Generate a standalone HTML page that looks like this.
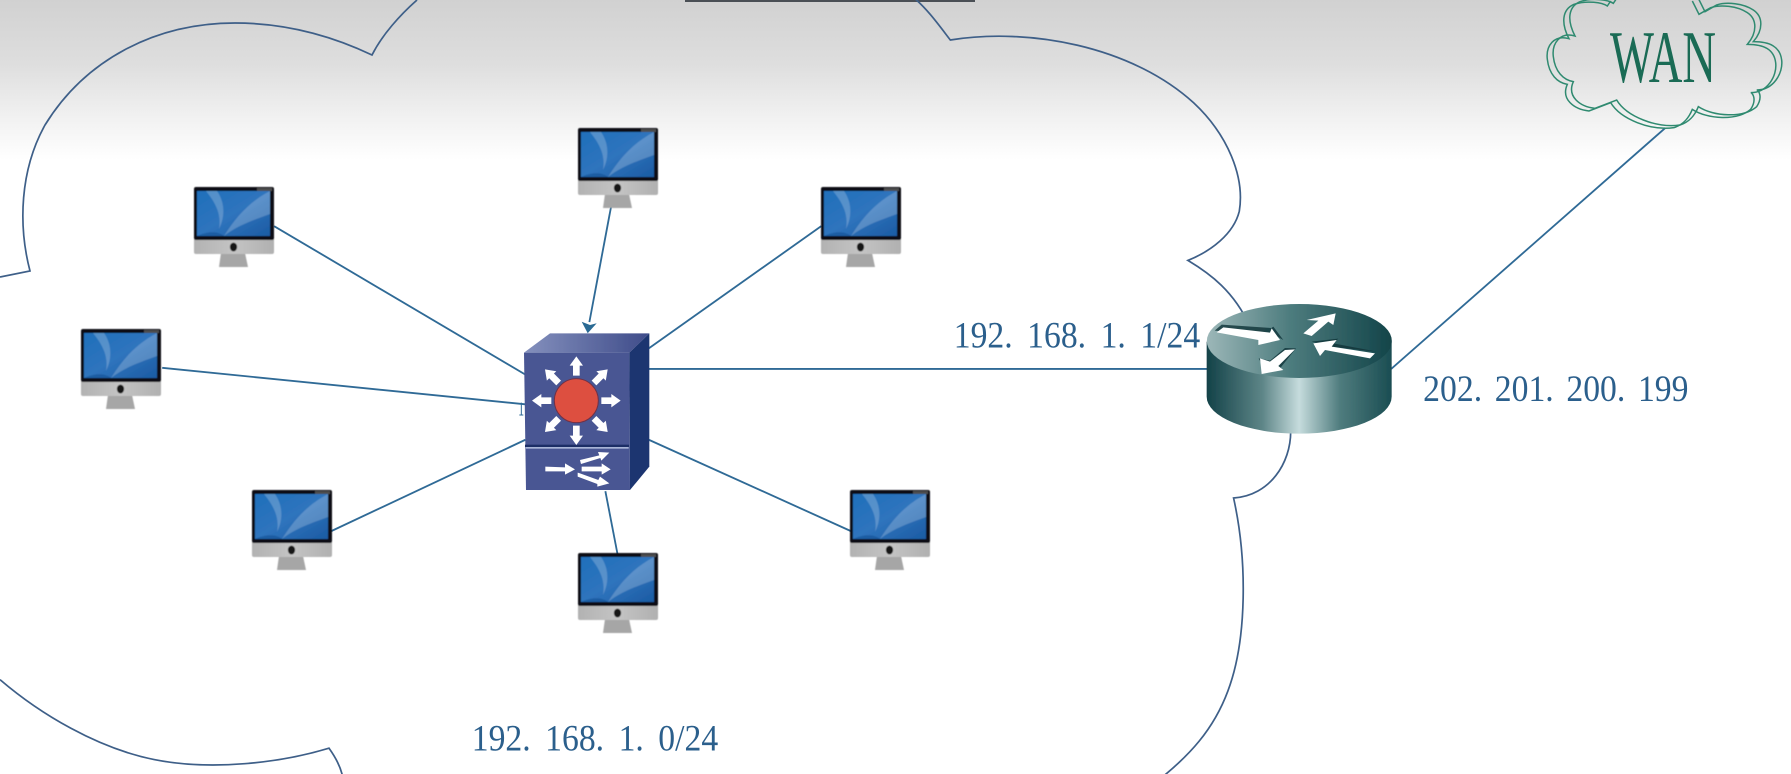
<!DOCTYPE html>
<html><head><meta charset="utf-8"><style>
html,body{margin:0;padding:0;background:#fff;width:1791px;height:774px;overflow:hidden}
svg{display:block}
text{font-family:"Liberation Serif","Noto Serif CJK SC",serif}
</style></head><body>
<svg width="1791" height="774" viewBox="0 0 1791 774" xmlns="http://www.w3.org/2000/svg" xmlns:xlink="http://www.w3.org/1999/xlink">
<defs>
<linearGradient id="bg" x1="0" y1="0" x2="0" y2="1"><stop offset="0" stop-color="#d1d1d1"/><stop offset=".4" stop-color="#dedede"/><stop offset=".75" stop-color="#f2f2f2"/><stop offset="1" stop-color="#ffffff"/></linearGradient>
<linearGradient id="scr" x1="0" y1="0" x2="1" y2="1"><stop offset="0" stop-color="#1f70bb"/><stop offset=".5" stop-color="#2f74bd"/><stop offset="1" stop-color="#1b5ba3"/></linearGradient>
<linearGradient id="silver" x1="0" y1="0" x2="1" y2="0"><stop offset="0" stop-color="#b2b2b2"/><stop offset=".5" stop-color="#c4c4c4"/><stop offset="1" stop-color="#b0b0b0"/></linearGradient>
<linearGradient id="rside" x1="0" y1="0" x2="1" y2="0"><stop offset="0" stop-color="#134248"/><stop offset=".3" stop-color="#5d8587"/><stop offset=".5" stop-color="#c6dcdd"/><stop offset=".72" stop-color="#4f7c7e"/><stop offset="1" stop-color="#1a4d52"/></linearGradient>
<linearGradient id="rtop" x1="0" y1="0" x2="1" y2="0"><stop offset="0" stop-color="#9cb7b8"/><stop offset=".45" stop-color="#4d7c7e"/><stop offset="1" stop-color="#134449"/></linearGradient>
<linearGradient id="stop" x1="0" y1="0" x2="1" y2="0"><stop offset="0" stop-color="#8490bd"/><stop offset="1" stop-color="#3f4c8a"/></linearGradient>
<filter id="b" x="-5%" y="-5%" width="110%" height="110%"><feGaussianBlur stdDeviation=".5"/></filter>
<g id="pc" filter="url(#b)">
<path d="M27 66 L51 66 L54 80 L25 80Z" fill="#a6a6a6"/>
<rect x="0" y="50" width="80" height="17" rx="2" fill="url(#silver)"/>
<rect x="0" y="0" width="80" height="53" rx="2" fill="#0c0d12"/>
<rect x="63" y="1" width="15" height="3" fill="#4d4d4d"/>
<rect x="3" y="4" width="73" height="45" fill="url(#scr)"/>
<path d="M30 49 C42 30 55 15 76 4 L76 27 C60 33 44 38 30 49Z" fill="#fff" opacity=".22"/>
<path d="M12 4 C20 14 28 26 25 42 C32 28 30 14 23 4Z" fill="#fff" opacity=".22"/>
<path d="M3 49 C14 44 24 44 30 49Z" fill="#0f4a8e" opacity=".5"/>
<ellipse cx="39.5" cy="60" rx="3.6" ry="4.4" fill="#151515"/>
</g>
<g id="sa"><polygon points="-10,-75 -10,-105 -20,-105 0,-133 20,-105 10,-105 10,-75" fill="#fff"/></g>
<path id="wc" d="M410 -5 L400 10 C385 0 340 -8 300 5 C265 20 260 60 285 108 C240 95 215 130 220 170 C225 215 250 240 280 245 C260 290 300 320 345 325 L410 300 C440 350 530 385 600 375 C630 365 645 345 655 320 C700 350 790 355 830 320 C850 290 835 270 830 270 C880 270 910 220 905 180 C900 140 870 125 820 125 C850 90 850 50 820 30 C790 10 740 5 710 15 L675 35 L655 -5" fill="none"/>
</defs>
<rect width="1791" height="160" fill="url(#bg)"/>
<rect x="685" y="0" width="290" height="2" fill="#4a4f55"/>

<g fill="none" stroke="#3e5f88" stroke-width="1.7">
<path d="M0 277 L30 271 C18 225 20 170 45 125 C85 60 155 23 235 23 C285 23 330 35 372 55 C382 35 400 15 417 0"/>
</g>
<g transform="scale(1.1422)">
<g fill="none" stroke="#3e5f88" stroke-width="1.5">
<path d="M800 -2 C812 8 822 22 832 35 C900 24 990 40 1045 90 C1075 118 1090 155 1085 185 C1080 205 1060 220 1040 228 C1060 240 1080 255 1094 285"/>
<path d="M1130 378 C1130 405 1112 434 1080 436 C1092 490 1092 560 1075 605 C1062 640 1040 662 1018 680"/>
<path d="M0 595 C35 625 85 655 135 665 C185 675 245 668 288 655 C293 662 298 670 300 680"/>
</g>
<g stroke="#2f6a96" stroke-width="1.6" fill="none">
<line x1="240" y1="198" x2="460" y2="328"/>
<line x1="538" y1="165" x2="516" y2="282"/>
<line x1="719" y1="198" x2="568" y2="305"/>
<line x1="142" y1="322" x2="460" y2="354"/>
<line x1="568" y1="323" x2="1060" y2="323"/>
<line x1="290" y1="465" x2="460" y2="385"/>
<line x1="568" y1="385" x2="745" y2="465"/>
<line x1="530" y1="430" x2="541" y2="487"/>
<line x1="1218" y1="323" x2="1458" y2="112"/>
</g>
<g fill="#2b5f8c" font-size="29.5" word-spacing="5.3">
<text transform="translate(835,304.4) scale(1,1.1)">192. 168. 1. 1/24</text>
<text transform="translate(1246,351) scale(1,1.1)" word-spacing="3.7">202. 201. 200. 199</text>
<text transform="translate(413,657) scale(1,1.1)">192. 168. 1. 0/24</text>
</g>
</g>
<polygon points="581.7,321.7 590,325 596.7,323.3 587.7,333.3" fill="#2a6a94"/>

<use xlink:href="#pc" href="#pc" x="194" y="187"/>
<use xlink:href="#pc" href="#pc" x="578" y="128"/>
<use xlink:href="#pc" href="#pc" x="821" y="187"/>
<use xlink:href="#pc" href="#pc" x="81" y="329"/>
<use xlink:href="#pc" href="#pc" x="252" y="490"/>
<use xlink:href="#pc" href="#pc" x="850" y="490"/>
<use xlink:href="#pc" href="#pc" x="578" y="553"/>

<g transform="translate(500,310) scale(.33333)" filter="url(#b)">
<polygon points="72,128 388,128 390,540 78,540" fill="#4a5793"/>
<polygon points="72,128 150,70 448,70 388,128" fill="url(#stop)"/>
<polygon points="388,128 448,70 448,470 390,540" fill="#1f356f"/>
<rect x="75" y="404" width="312" height="7" fill="#1f2f66"/>
<rect x="78" y="411" width="308" height="5" fill="#a8b4d6"/>
<path d="M64 278 V315 M58 315 H70" stroke="#2f6a96" stroke-width="3" fill="none"/>
<g transform="translate(229,272)">
<use xlink:href="#sa" href="#sa"/>
<use xlink:href="#sa" href="#sa" transform="rotate(45)"/>
<use xlink:href="#sa" href="#sa" transform="rotate(90)"/>
<use xlink:href="#sa" href="#sa" transform="rotate(135)"/>
<use xlink:href="#sa" href="#sa" transform="rotate(180)"/>
<use xlink:href="#sa" href="#sa" transform="rotate(225)"/>
<use xlink:href="#sa" href="#sa" transform="rotate(270)"/>
<use xlink:href="#sa" href="#sa" transform="rotate(315)"/>
<circle r="66" fill="#dd5040" stroke="#6f3048" stroke-width="3"/>
</g>
<g fill="#fff">
<polygon points="136,470 195,472 195,460 225,478 195,494 195,484 136,484"/>
<polygon points="240,450 298,436 294,426 328,428 304,452 301,444 243,462"/>
<polygon points="245,470 305,470 305,460 332,478 305,494 305,484 245,484"/>
<polygon points="233,488 240,490 295,510 300,500 328,520 292,530 292,522 233,500"/>
</g>
</g>

<g transform="translate(1190,290) scale(.33333)" filter="url(#b)">
<path d="M50 155 L605 155 L605 320 A277.5 111 0 0 1 50 320Z" fill="url(#rside)"/>
<ellipse cx="328" cy="153" rx="277.5" ry="111" fill="url(#rtop)"/>
<g fill="#0f3338" opacity=".8">
<polygon points="74,122 95,104 244,114 250,110 280,150 262,140"/>
<polygon points="365,155 445,146 430,160 560,185 420,170"/>
<polygon points="206,205 240,212 285,174 318,175 270,235 225,240"/>
</g>
<g fill="#fff">
<polygon points="80,127 100,112 240,128 245,115 270,150 205,165 205,150"/>
<polygon points="340,130 385,92 350,90 437,70 430,105 415,95 365,138"/>
<polygon points="370,160 440,150 425,170 555,190 540,205 405,180 390,198"/>
<polygon points="315,178 285,180 240,215 210,205 215,252 280,240 265,228"/>
</g>
</g>

<g transform="translate(1480,0) scale(.33333)" stroke="#2f8a70" stroke-width="4.5" fill="none">
<use xlink:href="#wc" href="#wc" transform="translate(-18,8)"/>
<use xlink:href="#wc" href="#wc"/>
</g>
<text x="1610" y="82" font-size="74" fill="#1a6b55" textLength="106" lengthAdjust="spacingAndGlyphs">WAN</text>
</svg>
</body></html>
